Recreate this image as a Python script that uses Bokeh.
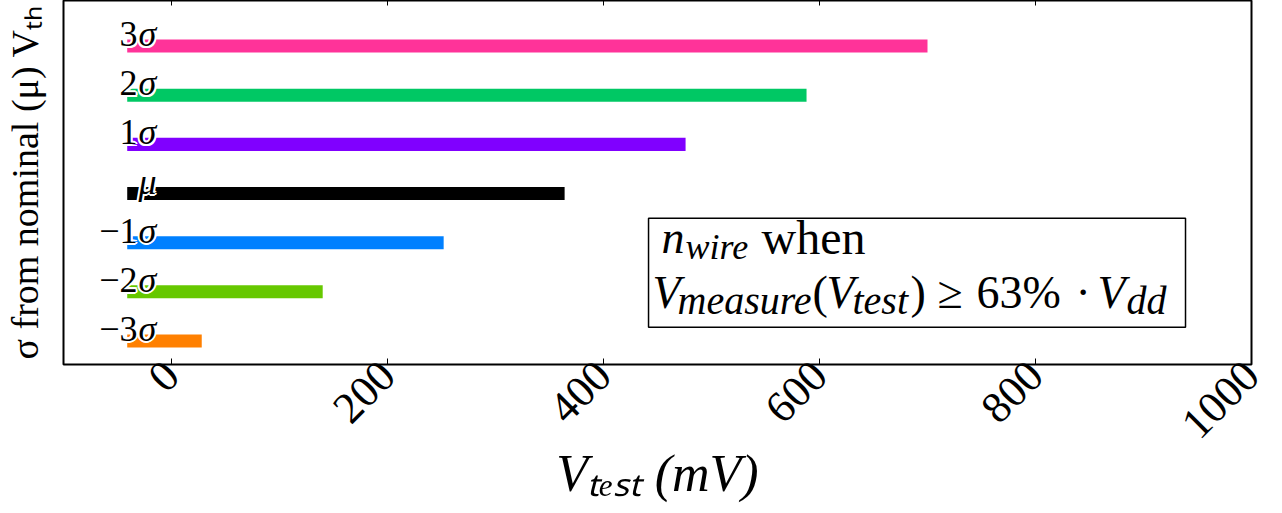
import math
from bokeh.plotting import figure
from bokeh.models import ColumnDataSource, FixedTicker, Label, BoxAnnotation, Range1d
from bokeh.core.properties import value
from bokeh.embed import file_html
from bokeh.resources import INLINE

# ---- data ----
levels = ["−3σ", "−2σ", "−1σ", "μ", "1σ", "2σ", "3σ"]
v_test_mv = [28, 140, 252, 364, 476, 588, 700]
bar_left_mv = -41
bar_colors = ["#ff8000", "#66c800", "#0080ff", "#000000", "#8000ff", "#00c864", "#ff3399"]
x_ticks = [0, 200, 400, 600, 800, 1000]
x_tick_labels = ["0", "200", "400", "600", "800", "1000"]
x_label = "Vₜₑₛₜ (mV)"
y_label = "σ from nominal (μ) Vₜₕ"

SERIF = "Liberation Serif"

ys = list(range(len(levels)))
src = ColumnDataSource(dict(
    y=ys, right=v_test_mv, color=bar_colors,
    num=[s[:-1] for s in levels], sym=[s[-1] for s in levels],
))

p = figure(frame_width=1188, frame_height=364,
           x_range=Range1d(-100, 1000), y_range=Range1d(-0.48, 6.928),
           output_backend="svg", toolbar_location=None,
           min_border_left=63, min_border_right=31, min_border_top=0, min_border_bottom=149)
p.background_fill_color = "white"
p.border_fill_color = "white"
p.outline_line_color = "black"
p.outline_line_width = 2
p.xgrid.visible = False
p.ygrid.visible = False

# x axis
ax = p.xaxis[0]
ax.ticker = FixedTicker(ticks=x_ticks)
ax.major_label_overrides = {t: l for t, l in zip(x_ticks, x_tick_labels)}
ax.major_tick_in = 6
ax.major_tick_out = 0
ax.minor_tick_in = 0
ax.minor_tick_out = 0
ax.major_tick_line_color = "black"
ax.major_tick_line_width = 1
ax.axis_line_color = None
ax.major_label_orientation = math.pi / 4
ax.major_label_standoff = 4
ax.major_label_text_font = SERIF
ax.major_label_text_font_size = "44px"
ax.major_label_text_color = "black"
ax.axis_label = x_label
ax.axis_label_text_font = SERIF
ax.axis_label_text_font_size = "52px"
ax.axis_label_text_font_style = "italic"
ax.axis_label_text_color = "black"
ax.axis_label_standoff = -9

# y axis (label only)
yax = p.yaxis[0]
yax.ticker = FixedTicker(ticks=[])
yax.major_tick_in = 0
yax.major_tick_out = 0
yax.minor_tick_in = 0
yax.minor_tick_out = 0
yax.axis_line_color = None
yax.axis_label = y_label
yax.axis_label_text_font = SERIF
yax.axis_label_text_font_size = "38px"
yax.axis_label_text_font_style = "normal"
yax.axis_label_text_color = "black"
yax.axis_label_standoff = 18

# top inward ticks
p.ray(x=x_ticks, y=p.y_range.end, length=5, angle=-math.pi / 2, length_units="screen",
      line_color="black", line_width=1)

# bars
p.hbar(y="y", left=bar_left_mv, right="right", height=0.265, fill_color="color",
       line_color=None, source=src)

# bar labels with a white halo
LX = -30.6
OY = -12
for dx, dy in [(-2, 0), (2, 0), (0, -2), (0, 2), (-1.5, -1.5), (1.5, -1.5), (-1.5, 1.5), (1.5, 1.5)]:
    p.text(x=LX, y="y", text="num", source=src, text_align="right", text_baseline="alphabetic",
           x_offset=-1 + dx, y_offset=OY + dy, text_font=value(SERIF), text_font_size="36px",
           text_color="white")
    p.text(x=LX, y="y", text="sym", source=src, text_align="left", text_baseline="alphabetic",
           x_offset=dx, y_offset=OY + dy, text_font=value(SERIF), text_font_size="36px",
           text_font_style="italic", text_color="white")
p.text(x=LX, y="y", text="num", source=src, text_align="right", text_baseline="alphabetic",
       x_offset=-1, y_offset=OY, text_font=value(SERIF), text_font_size="36px",
       text_color="black")
p.text(x=LX, y="y", text="sym", source=src, text_align="left", text_baseline="alphabetic",
       y_offset=OY, text_font=value(SERIF), text_font_size="36px", text_font_style="italic",
       text_color="black")

# annotation box
p.add_layout(BoxAnnotation(left=441.7, right=938.9, bottom=0.279, top=2.498,
                           fill_color="white", fill_alpha=1.0,
                           line_color="black", line_width=1.5, line_alpha=1.0))


def lab(text, sx, sy, size, italic=False):
    p.add_layout(Label(x=sx, y=sy, x_units="screen", y_units="screen", text=text,
                       text_font=SERIF, text_font_size=f"{size}px",
                       text_font_style="italic" if italic else "normal",
                       text_align="left", text_baseline="alphabetic",
                       text_color="black"))


# box text (frame-relative screen units)
M, S = 46, 40
lab("n", 598, 127, M, True)
lab("wire", 622, 118, 36, True)
lab("when", 698, 127, 48)
lab("V", 589, 72, M, True)
lab("measure", 614, 64, S, True)
lab("(", 749, 72, M)
lab("V", 763, 72, M, True)
lab("test", 789, 64, S, True)
lab(")", 847, 72, M)
lab("≥", 874, 72, M)
lab("63%", 913, 72, M)
lab("·", 1012, 72, M)
lab("V", 1034, 72, M, True)
lab("dd", 1063, 64, S, True)

open("out.html", "w").write(file_html(p, INLINE))
